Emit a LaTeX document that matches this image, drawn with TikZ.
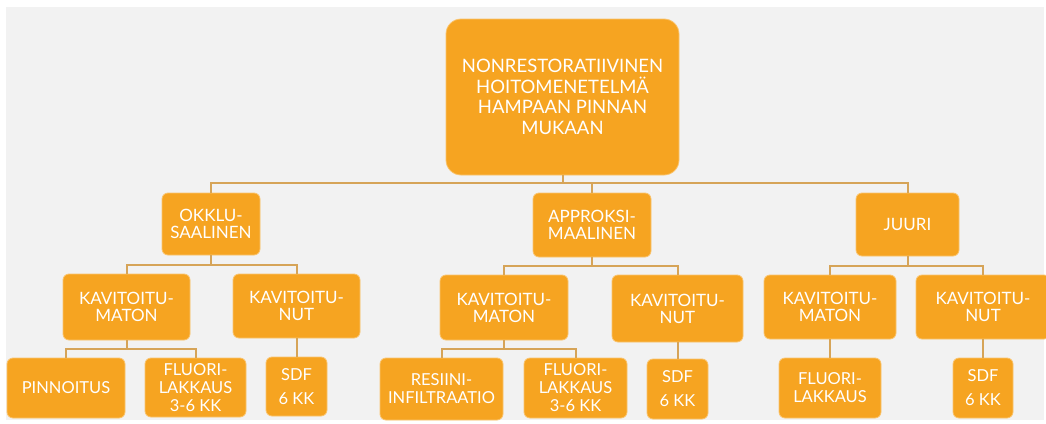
\documentclass[tikz,border=0pt]{standalone}
\usepackage{fontspec}
\setmainfont{Lato}
\usepackage{tikz}
\definecolor{boxorange}{RGB}{246,164,33}
\definecolor{boxedge}{RGB}{250,196,110}
\definecolor{linkgold}{RGB}{214,164,88}
\definecolor{backgray}{RGB}{242,242,242}

\begin{document}
\begin{tikzpicture}[x=1pt,y=-1pt]
\tikzset{box/.style={fill=boxorange, draw=boxedge, line width=0.8pt, rounded corners=6pt,
    text=white, align=center, inner sep=2pt},
  toptext/.style={font=\fontsize{18.5}{20.7}\selectfont},
  midtext/.style={font=\fontsize{17}{17}\selectfont},
  lowtext/.style={font=\fontsize{16.5}{18}\selectfont},
  link/.style={draw=linkgold, line width=2pt}}
\useasboundingbox (0,0) rectangle (1046,423);
\fill[white] (0,0) rectangle (1046,423);
\fill[backgray] (6,7) rectangle (1044,420);

\node[box, toptext, rounded corners=15pt, minimum width=233pt, minimum height=156pt] (root) at (562.5,97)
  {NONRESTORATIIVINEN\\HOITOMENETELMÄ\\HAMPAAN PINNAN\\MUKAAN};

\node[box, midtext, minimum width=98pt, minimum height=62pt] (okk) at (211,224) {OKKLU-\\SAALINEN};
\node[box, midtext, minimum width=118pt, minimum height=64pt] (app) at (592,225) {APPROKSI-\\MAALINEN};
\node[box, midtext, minimum width=103pt, minimum height=63pt] (juu) at (907.5,224.5) {JUURI};

\node[box, midtext, minimum width=127pt, minimum height=66pt] (mat1) at (126.5,307) {KAVITOITU-\\MATON};
\node[box, midtext, minimum width=127pt, minimum height=64pt] (nut1) at (296.5,306) {KAVITOITU-\\NUT};
\node[box, midtext, minimum width=128pt, minimum height=65pt] (mat2) at (504,307.5) {KAVITOITU-\\MATON};
\node[box, midtext, minimum width=131pt, minimum height=67pt] (nut2) at (677.5,308.5) {KAVITOITU-\\NUT};
\node[box, midtext, minimum width=132pt, minimum height=64pt] (mat3) at (830,307) {KAVITOITU-\\MATON};
\node[box, midtext, minimum width=134pt, minimum height=64pt] (nut3) at (983,307) {KAVITOITU-\\NUT};

\node[box, lowtext, minimum width=118pt, minimum height=60pt] (pin) at (66,388) {PINNOITUS};
\node[box, lowtext, minimum width=101pt, minimum height=59pt] (flu1) at (195.5,387.5) {FLUORI-\\LAKKAUS\\3-6 KK};
\node[box, lowtext, minimum width=61pt, minimum height=59pt] (sdf1) at (296.5,386.5) {SDF\\[6pt]6 KK};
\node[box, lowtext, minimum width=123pt, minimum height=62pt] (res) at (441.5,389) {RESIINI-\\INFILTRAATIO};
\node[box, lowtext, minimum width=103pt, minimum height=60pt] (flu2) at (575.5,388) {FLUORI-\\LAKKAUS\\3-6 KK};
\node[box, lowtext, minimum width=61pt, minimum height=60pt] (sdf2) at (677.5,389) {SDF\\[6pt]6 KK};
\node[box, lowtext, minimum width=102pt, minimum height=60pt] (flu3) at (830,388) {FLUORI-\\LAKKAUS};
\node[box, lowtext, minimum width=60pt, minimum height=60pt] (sdf3) at (983,388) {SDF\\[6pt]6 KK};

\draw[link] (root.south) -- ++(0,8) -| (okk.north);
\draw[link] (root.south) -- ++(0,8) -| (app.north);
\draw[link] (root.south) -- ++(0,8) -| (juu.north);

\draw[link] (okk.south) -- ++(0,10) -| (mat1.north);
\draw[link] (okk.south) -- ++(0,10) -| (nut1.north);
\draw[link] (app.south) -- ++(0,9) -| (mat2.north);
\draw[link] (app.south) -- ++(0,9) -| (nut2.north);
\draw[link] (juu.south) -- ++(0,9.5) -| (mat3.north);
\draw[link] (juu.south) -- ++(0,9.5) -| (nut3.north);

\draw[link] (mat1.south) -- ++(0,9) -| (pin.north);
\draw[link] (mat1.south) -- ++(0,9) -| (flu1.north);
\draw[link] (nut1.south) -- (sdf1.north);
\draw[link] (mat2.south) -- ++(0,9) -| (res.north);
\draw[link] (mat2.south) -- ++(0,9) -| (flu2.north);
\draw[link] (nut2.south) -- (sdf2.north);
\draw[link] (mat3.south) -- (flu3.north);
\draw[link] (nut3.south) -- (sdf3.north);
\end{tikzpicture}
\end{document}
